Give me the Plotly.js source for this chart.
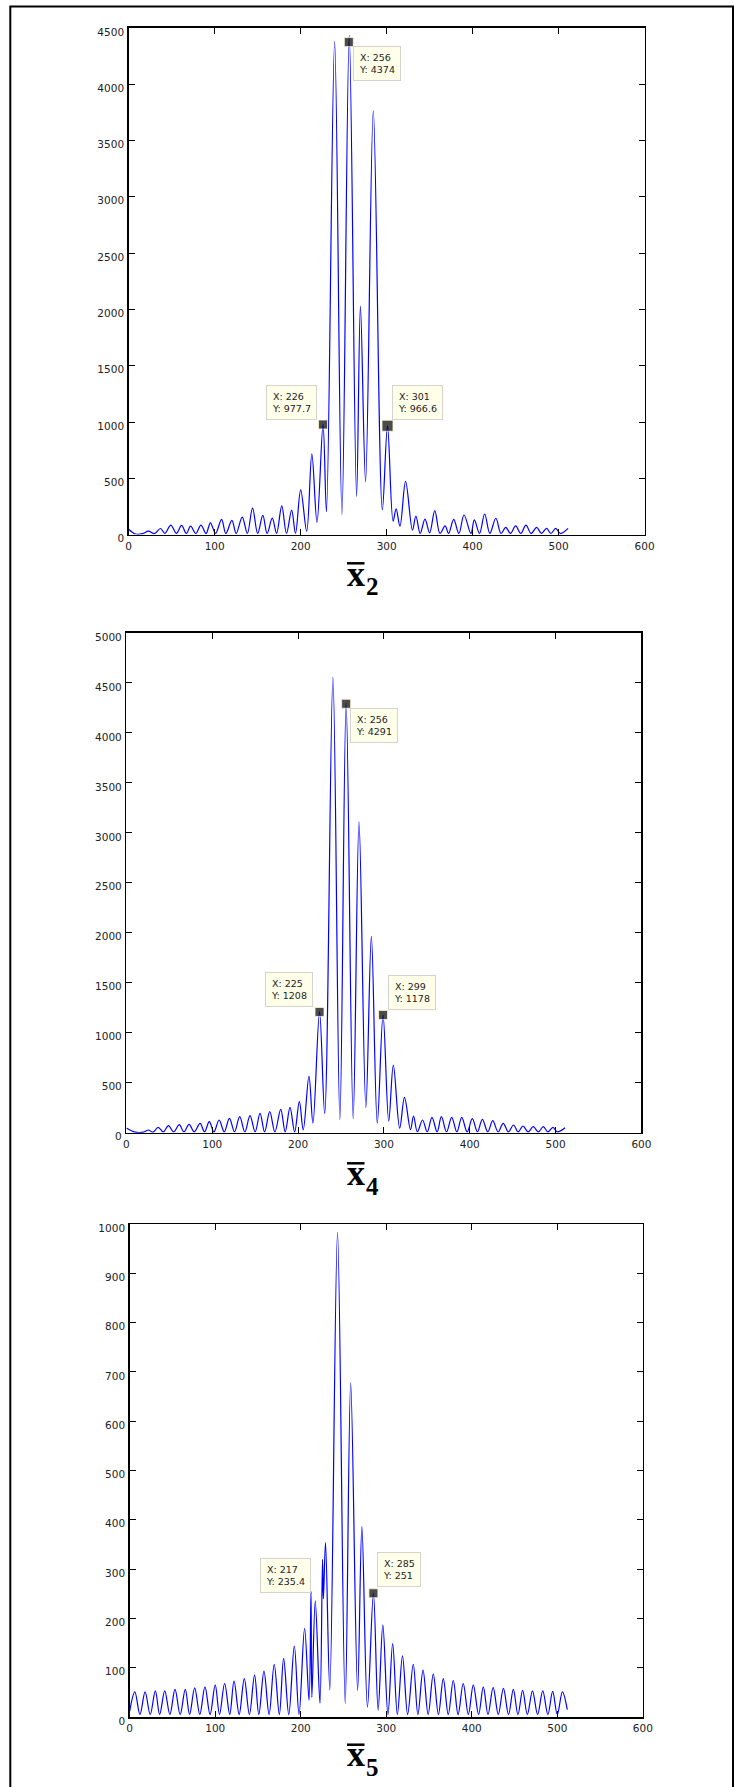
<!DOCTYPE html>
<html>
<head>
<meta charset="utf-8">
<script src="https://cdn.plot.ly/plotly-3.0.1.min.js"></script>
<style>
html,body{margin:0;padding:0;background:#ffffff;}
#chart{width:734px;height:1787px;}
</style>
</head>
<body>
<div id="chart"></div>
<script>
// ---------------- data ----------------
const xTickVals = [0, 100, 200, 300, 400, 500, 600];
const yTickVals2 = [0, 500, 1000, 1500, 2000, 2500, 3000, 3500, 4000, 4500];
const yTickVals4 = [0, 500, 1000, 1500, 2000, 2500, 3000, 3500, 4000, 4500, 5000];
const yTickVals5 = [0, 100, 200, 300, 400, 500, 600, 700, 800, 900, 1000];

// panel x̄2 : peaks and nulls
const x2_x = [0, 8, 16, 23, 30, 37, 42, 49, 55.5, 61.5, 67, 72, 78, 84, 90, 95, 101, 108, 113, 120, 125, 132, 138, 144, 150, 156, 161, 167, 172, 178, 183.5, 189.5, 194, 200, 207, 213, 219, 226, 230, 239.5, 248, 256.5, 265, 269.5, 275.5, 284.5, 295, 301, 307.5, 311, 315.5, 322, 330, 334, 339, 344.6, 350, 356, 362, 368, 372, 378, 384, 390, 398, 402, 408, 414, 420, 427, 433, 438.5, 444, 450, 456, 462, 468, 474.5, 480, 486, 491, 496.6, 502, 511];
const x2_y = [48, 5, 8, 30, 8, 54, 10, 85, 10, 82, 10, 75, 10, 85, 10, 105, 10, 136, 10, 126, 10, 156, 10, 235, 10, 170, 10, 146, 10, 255, 10, 218, 10, 398, 30, 717, 109, 977.7, 204, 4381, 177, 4435, 340, 2029, 469, 3763, 221, 966.6, 120, 228, 75, 472, 40, 165, 10, 138, 15, 213, 10, 77, 10, 136, 10, 174, 10, 130, 10, 183, 10, 145, 10, 65, 10, 77, 10, 85, 10, 65, 10, 55, 10, 55, 10, 55];

// panel x̄4
const x4_x = [0, 10, 20, 25.5, 31, 37, 43, 49, 55, 61.6, 67, 73, 79, 85.8, 91, 96.6, 102, 108, 114, 120, 126, 132, 138, 144, 150, 155.7, 161, 167, 173, 179.8, 185, 190.6, 196, 201.5, 206, 212.7, 217.3, 225, 231, 240.6, 248.7, 256, 264.2, 271, 279, 285.4, 292.3, 299, 305.6, 311, 318.4, 324, 331, 334.5, 339, 345, 350.5, 356, 362, 367, 373, 379, 385, 390.7, 397, 403, 409, 414.7, 421, 426.8, 433, 439, 445, 451, 456.5, 462, 468, 474, 480, 485.7, 491, 497, 502, 511];
const x4_y = [46, 5, 5, 27, 5, 54, 8, 70, 8, 80, 8, 84, 8, 94, 8, 110, 8, 127, 8, 144, 8, 160, 8, 170, 8, 194, 8, 210, 8, 234, 8, 254, 8, 314, 27, 565, 95, 1208, 192, 4555, 130, 4300, 140, 3110, 252, 1964, 95, 1178, 115, 677, 45, 353, 30, 167, 8, 127, 8, 154, 8, 160, 8, 154, 8, 154, 8, 140, 8, 134, 8, 120, 8, 94, 8, 77, 8, 67, 8, 60, 8, 60, 8, 54, 8, 50];

// panel x̄5
const x5_x = [0, 6, 12, 18, 24, 30, 35, 41, 47, 53, 59, 65, 70, 76, 82, 88, 94, 100, 105, 111, 117, 122, 128, 134, 140, 146, 151, 157, 163, 169, 175, 180, 186, 192.5, 198, 204.5, 209.7, 212, 213, 217, 222.5, 225.5, 226.5, 229, 234, 243, 252, 258.4, 266.5, 271.5, 278, 285, 290.5, 296, 302, 307.5, 313, 319, 325, 331.6, 337, 343, 349, 355, 361, 366.7, 372.5, 378.4, 384, 390, 396, 401.8, 408, 413.5, 419, 425, 431, 437, 443, 448.6, 454, 459.5, 465, 471, 477, 483, 489, 494.6, 500, 506, 511.7];
const x5_y = [12, 51, 5, 51, 5, 53, 5, 53, 5, 56, 5, 56, 5, 59, 5, 61, 5, 65, 5, 68, 5, 73, 5, 78, 5, 85, 5, 93, 5, 107, 5, 119, 5, 144, 5, 180, 34, 255, 40, 235.4, 28, 320, 240, 354, 55, 983, 27, 678, 54, 386, 20, 251, 14, 187, 5, 149, 5, 124, 5, 107, 5, 95, 5, 87, 5, 78, 5, 74, 5, 68, 5, 65, 5, 61, 5, 60, 5, 58, 5, 56, 5, 54, 5, 53, 5, 53, 5, 52, 5, 51, 15];

// data tips
const tip2_x = [256, 226, 301];
const tip2_y = [4374, 977.7, 966.6];
const tip4_x = [256, 225, 299];
const tip4_y = [4291, 1208, 1178];
const tip5_x = [217, 285];
const tip5_y = [235.4, 251];

const axisSubscripts = ['2', '4', '5'];

// ---------------- layout configuration ----------------
const W = 734, H = 1787;
const px = v => v / W;
const py = v => 1 - v / H;

const panels = [
  { sx: x2_x, sy: x2_y, tx: tip2_x, ty: tip2_y, yt: yTickVals2,
    box: [128.7, 644.6, 27.9, 534.6],
    tipPlace: [['left','top',4,-4], ['right','bottom',-6,5], ['left','bottom',4,6]],
    tipMarker: [9, 9, 11],
    label: { cx: 355.8, xBase: 586.3, dLeft: 363.5, dBase: 595, bar: [347, 364.5, 563.3] } },
  { sx: x4_x, sy: x4_y, tx: tip4_x, ty: tip4_y, yt: yTickVals4,
    box: [126.4, 641.4, 632.9, 1132.7],
    tipPlace: [['left','top',4,-4.5], ['right','bottom',-7,5], ['left','bottom',5,5]],
    tipMarker: [9, 9, 9],
    label: { cx: 355.8, xBase: 1185.5, dLeft: 363.5, dBase: 1195, bar: [347, 364.5, 1163.3] } },
  { sx: x5_x, sy: x5_y, tx: tip5_x, ty: tip5_y, yt: yTickVals5,
    box: [129.7, 642.8, 1224, 1717],
    tipPlace: [['right','bottom',-4,8], ['left','bottom',4,6]],
    tipMarker: [0, 9],
    label: { cx: 355.8, xBase: 1766, dLeft: 363.5, dBase: 1775.8, bar: [347, 364.5, 1744.7] } }
];

const tickFont = { family: 'DejaVu Sans, Arial, sans-serif', size: 10.5, color: '#222222' };
const tipFont = { family: 'DejaVu Sans, Arial, sans-serif', size: 9.5, color: '#222222' };

const traces = [];
const layout = {
  width: W, height: H,
  margin: { l: 0, r: 0, t: 0, b: 0, pad: 0 },
  paper_bgcolor: '#ffffff',
  plot_bgcolor: '#ffffff',
  showlegend: false,
  annotations: [],
  shapes: []
};

panels.forEach((p, i) => {
  const s = i === 0 ? '' : String(i + 1);
  const xa = 'x' + s, ya = 'y' + s;
  const [bx0, bx1, by0, by1] = p.box;
  const yMax = p.yt[p.yt.length - 1];

  layout['xaxis' + s] = {
    domain: [px(bx0), px(bx1)], anchor: ya, range: [0, 600],
    tickmode: 'array', tickvals: xTickVals, ticktext: xTickVals.map(String),
    ticks: 'inside', ticklen: 6, tickwidth: 1, tickcolor: '#000',
    showline: true, linecolor: '#000', linewidth: 1.5, mirror: 'ticks',
    showgrid: false, zeroline: false, tickfont: tickFont, ticklabelstandoff: 1,
    fixedrange: true
  };
  layout['yaxis' + s] = {
    domain: [py(by1), py(by0)], anchor: xa, range: [0, yMax],
    tickmode: 'array', tickvals: p.yt, ticktext: p.yt.map(String),
    ticks: 'inside', ticklen: 6, tickwidth: 1, tickcolor: '#000',
    showline: true, linecolor: '#000', linewidth: 1.5, mirror: 'ticks',
    showgrid: false, zeroline: false, tickfont: tickFont,
    ticklabelshift: 4, ticklabelstandoff: 1,
    fixedrange: true
  };

  traces.push({
    type: 'scatter', mode: 'lines', x: p.sx, y: p.sy, xaxis: xa, yaxis: ya,
    line: { color: '#0000ff', width: 1.2, shape: 'spline', smoothing: 1 },
    hoverinfo: 'skip'
  });

  const mx = [], my = [], ms = [];
  p.tx.forEach((tx, j) => {
    if (p.tipMarker[j] > 0) { mx.push(tx); my.push(p.ty[j]); ms.push(p.tipMarker[j]); }
    const pl = p.tipPlace[j];
    layout.annotations.push({
      xref: xa, yref: ya, x: tx, y: p.ty[j],
      text: 'X: ' + tx + '<br>Y: ' + p.ty[j],
      showarrow: false, xanchor: pl[0], yanchor: pl[1], xshift: pl[2], yshift: pl[3],
      align: 'left', bgcolor: '#ffffea', bordercolor: '#d4d4cc', borderwidth: 1, borderpad: 5,
      font: tipFont
    });
  });
  traces.push({
    type: 'scatter', mode: 'markers', x: mx, y: my, xaxis: xa, yaxis: ya,
    marker: { symbol: 'square', size: ms, color: '#000000', line: { color: '#fff8c0', width: 0.8 } },
    cliponaxis: false, hoverinfo: 'skip'
  });

  // axis label  x̄ with subscript
  const L = p.label;
  layout.annotations.push({
    xref: 'paper', yref: 'paper', x: px(L.cx), y: py(L.xBase - 0.3375 * 36),
    text: '<b>x</b>', showarrow: false, xanchor: 'center', yanchor: 'middle',
    font: { family: 'Liberation Serif, Times New Roman, serif', size: 36, color: '#000' }
  });
  layout.annotations.push({
    xref: 'paper', yref: 'paper', x: px(L.dLeft), y: py(L.dBase - 0.3375 * 25),
    text: '<b>' + axisSubscripts[i] + '</b>', showarrow: false, xanchor: 'left', yanchor: 'middle',
    font: { family: 'Liberation Serif, Times New Roman, serif', size: 25, color: '#000' }
  });
  layout.shapes.push({
    type: 'line', xref: 'paper', yref: 'paper',
    x0: px(L.bar[0]), x1: px(L.bar[1]), y0: py(L.bar[2]), y1: py(L.bar[2]),
    line: { color: '#000', width: 2.5 }
  });
});

// outer frame
layout.shapes.push({
  type: 'rect', xref: 'paper', yref: 'paper',
  x0: px(10.3), x1: px(733), y0: py(6.5), y1: -0.02,
  line: { color: '#000', width: 2 }, fillcolor: 'rgba(0,0,0,0)'
});

Plotly.newPlot('chart', traces, layout, { staticPlot: true, displayModeBar: false });
</script>
</body>
</html>
